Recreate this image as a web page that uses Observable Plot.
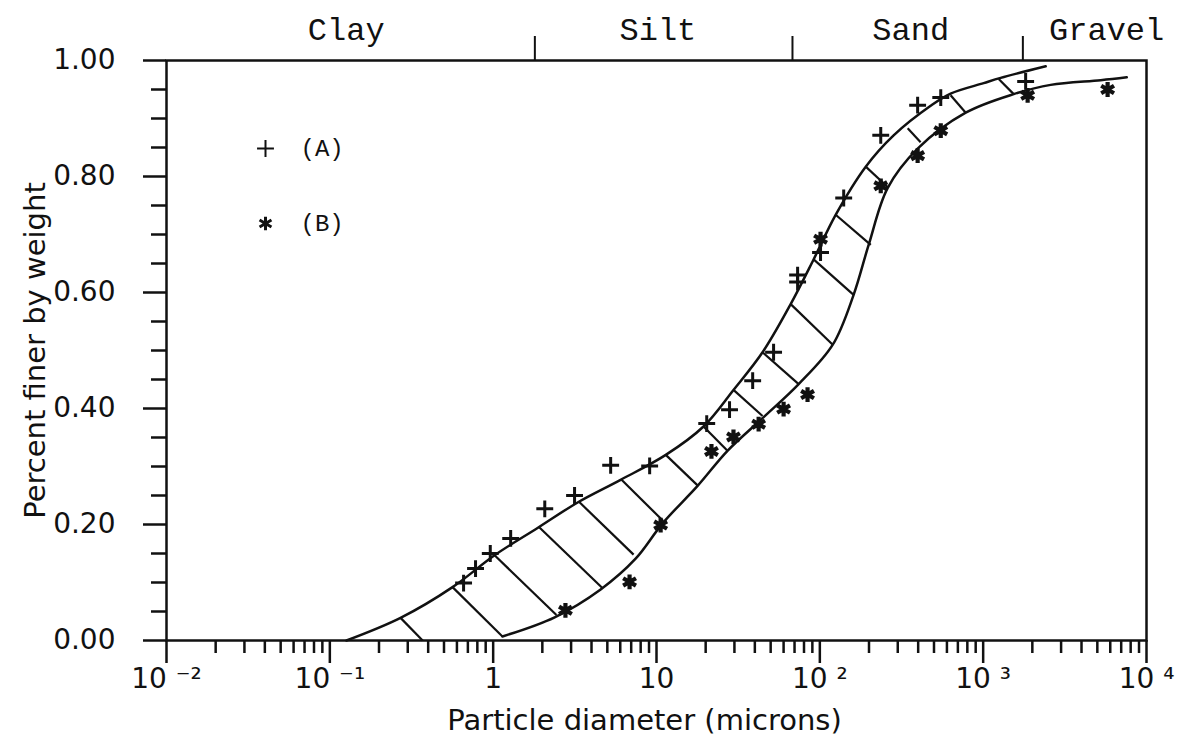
<!DOCTYPE html>
<html><head><meta charset="utf-8">
<script src="https://cdn.jsdelivr.net/npm/d3@7"></script>
<script src="https://cdn.jsdelivr.net/npm/@observablehq/plot@0.6"></script>
<style>
html,body{margin:0;padding:0;background:#fff;}
#chart svg{display:block;}
</style></head><body><div id="chart"></div>
<script>
// ---- data ----
const xMajorTicks = [0.01, 0.1, 1, 10, 100, 1000, 10000];
const xMajorLabels = ["10 \u207B\u00B2", "10 \u207B\u00B9", "1", "10", "10 \u00B2", "10 \u00B3", "10 \u2074"];
const xMinorTicks = [0.01, 0.1, 1, 10, 100, 1000].flatMap(d => [2,3,4,5,6,7,8,9].map(k => +(d * k).toPrecision(3)));
const yMajorTicks = [0, 0.2, 0.4, 0.6, 0.8, 1.0];
const yMinorTicks = [0.05, 0.1, 0.15, 0.25, 0.3, 0.35, 0.45, 0.5, 0.55, 0.65, 0.7, 0.75, 0.85, 0.9, 0.95];

const categories = ["Clay", "Silt", "Sand", "Gravel"];
const categoryX = [0.126, 10.2, 360, 5700];
const boundaries = [1.8, 68, 1750];

// series A (+)
const aX = [0.659, 0.78, 0.96, 1.28, 2.07, 3.15, 5.24, 9.08, 20.3, 28.0, 38.8, 52.1, 73.1, 73.1, 101, 140, 236, 397, 550, 1820];
const aY = [0.099, 0.124, 0.150, 0.176, 0.227, 0.250, 0.302, 0.301, 0.374, 0.398, 0.448, 0.497, 0.618, 0.630, 0.669, 0.763, 0.871, 0.923, 0.936, 0.964];
// series B (*)
const bX = [2.77, 6.84, 10.6, 21.7, 29.6, 42.2, 60, 84.1, 101, 236, 397, 550, 1872, 5780];
const bY = [0.052, 0.101, 0.199, 0.326, 0.351, 0.373, 0.399, 0.424, 0.692, 0.784, 0.836, 0.879, 0.940, 0.950];

// envelope curves
const upperX = [0.1265, 0.271, 0.564, 1.02, 1.87, 3.29, 6.03, 11.4, 19.4, 29.6, 44.6, 66.3, 91.6, 125, 191, 283, 477, 632, 1007, 1280, 2415];
const upperY = [0, 0.039, 0.092, 0.147, 0.194, 0.238, 0.277, 0.320, 0.369, 0.432, 0.497, 0.580, 0.657, 0.734, 0.817, 0.871, 0.922, 0.943, 0.961, 0.970, 0.99];
const lowerX = [1.14, 2.38, 4.55, 7.45, 10.9, 17.9, 27.2, 45.3, 74.2, 120, 161, 199, 260, 397, 782, 1538, 2590, 5245, 7570];
const lowerY = [0.007, 0.040, 0.088, 0.141, 0.202, 0.267, 0.327, 0.385, 0.442, 0.510, 0.596, 0.682, 0.780, 0.848, 0.910, 0.942, 0.958, 0.966, 0.971];

// hatch segments across the band
const hatchX1 = [0.271, 0.564, 1.02, 1.90, 3.33, 6.11, 11.4, 19.4, 29.6, 44.6, 66.3, 91.6, 125, 191, 345, 632, 1245];
const hatchY1 = [0.039, 0.092, 0.147, 0.196, 0.240, 0.277, 0.320, 0.369, 0.432, 0.497, 0.580, 0.657, 0.734, 0.817, 0.883, 0.940, 0.968];
const hatchX2 = [0.37, 1.14, 2.44, 4.68, 7.24, 11.0, 17.9, 27.2, 44.6, 74.2, 120, 161, 205, 260, 414, 782, 1538];
const hatchY2 = [0, 0.007, 0.044, 0.090, 0.148, 0.206, 0.267, 0.327, 0.387, 0.442, 0.510, 0.596, 0.682, 0.782, 0.859, 0.910, 0.942];

const legendLabels = ["(A)", "(B)"];

// ---- chart ----
const ink = "#111";
const sans = "DejaVu Sans";
const mono = "Liberation Mono";

const plot = Plot.plot({
  width: 1193,
  height: 740,
  marginTop: 60,
  marginBottom: 100,
  marginLeft: 166,
  marginRight: 47,
  style: {fontFamily: sans, background: "#fff", color: ink},
  x: {type: "log", domain: [0.01, 10000]},
  y: {domain: [0, 1]},
  marks: [
    Plot.frame({stroke: ink, strokeWidth: 2.5}),
    Plot.axisX(xMinorTicks, {anchor: "bottom", tickSize: 13, tickFormat: () => "", stroke: ink, strokeWidth: 2.5, label: null}),
    Plot.axisX(xMajorTicks, {anchor: "bottom", tickSize: 23, tickPadding: 5, tickFormat: d => xMajorLabels[xMajorTicks.indexOf(d)], fontSize: 28, fill: ink, stroke: ink, strokeWidth: 2.5, label: null}),
    Plot.axisX(boundaries, {anchor: "top", tickSize: 25, tickFormat: () => "", stroke: ink, strokeWidth: 2, label: null}),
    Plot.axisY(yMinorTicks, {anchor: "left", tickSize: 15, tickFormat: () => "", stroke: ink, strokeWidth: 2.5, label: null}),
    Plot.axisY(yMajorTicks, {anchor: "left", tickSize: 23, tickPadding: 28, tickFormat: d => d.toFixed(2), fontSize: 28, fill: ink, stroke: ink, strokeWidth: 2.5, label: null}),
    Plot.text(categories, {x: categoryX, frameAnchor: "top", dy: -31, lineAnchor: "middle", fontFamily: mono, fontSize: 32, fill: ink}),
    Plot.text(["Particle diameter (microns)"], {frameAnchor: "bottom", dy: 80, dx: -12, lineAnchor: "middle", textAnchor: "middle", fontSize: 29, fill: ink}),
    Plot.text(["Percent finer by weight"], {frameAnchor: "left", dx: -131, rotate: -90, lineAnchor: "middle", textAnchor: "middle", fontSize: 29, fill: ink}),
    Plot.line(upperX, {x: upperX, y: upperY, curve: "catmull-rom", stroke: ink, strokeWidth: 2.5}),
    Plot.line(lowerX, {x: lowerX, y: lowerY, curve: "catmull-rom", stroke: ink, strokeWidth: 2.5}),
    Plot.link(hatchX1, {x1: hatchX1, y1: hatchY1, x2: hatchX2, y2: hatchY2, stroke: ink, strokeWidth: 2.2}),
    Plot.dot(aX, {x: aX, y: aY, symbol: "plus", r: 5.5, stroke: ink, strokeWidth: 3}),
    Plot.dot(bX, {x: bX, y: bY, symbol: "asterisk", r: 7, stroke: ink, strokeWidth: 4.2}),
    Plot.dot([legendLabels[0]], {frameAnchor: "top-left", dx: 99, dy: 88, symbol: "plus", r: 5.5, stroke: ink, strokeWidth: 2}),
    Plot.dot([legendLabels[1]], {frameAnchor: "top-left", dx: 99, dy: 163, symbol: "asterisk", r: 6.5, stroke: ink, strokeWidth: 3}),
    Plot.text([legendLabels[0]], {frameAnchor: "top-left", dx: 134, dy: 88, textAnchor: "start", lineAnchor: "middle", fontFamily: mono, fontSize: 24, fill: ink}),
    Plot.text([legendLabels[1]], {frameAnchor: "top-left", dx: 134, dy: 163, textAnchor: "start", lineAnchor: "middle", fontFamily: mono, fontSize: 24, fill: ink})
  ]
});
document.getElementById("chart").appendChild(plot);
</script>
</body></html>
